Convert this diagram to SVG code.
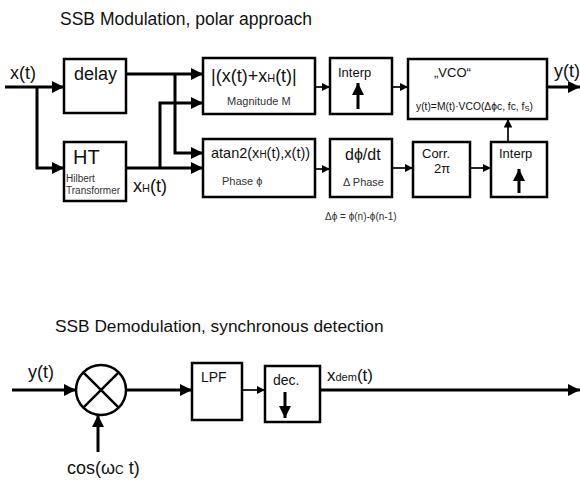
<svg xmlns="http://www.w3.org/2000/svg" width="580" height="489" viewBox="0 0 580 489">
<defs>
<marker id="ah" viewBox="0 0 10 10" refX="10" refY="5" markerWidth="4" markerHeight="4" orient="auto" markerUnits="strokeWidth"><path d="M0,0 L10,5 L0,10 z" fill="#000"/></marker>
<marker id="ahs" viewBox="0 0 10 10" refX="10" refY="5" markerWidth="5" markerHeight="5" orient="auto" markerUnits="strokeWidth"><path d="M0,0 L10,5 L0,10 z" fill="#000"/></marker>
<style>
.box{fill:#fff;stroke:#000;stroke-width:2.5}
.w{fill:none;stroke:#000;stroke-width:3}
.t{stroke-width:1.7}
.a{marker-end:url(#ah)}
.as{marker-end:url(#ahs)}
text{font-family:"Liberation Sans",Arial,sans-serif;fill:#111}
.sm{fill:#333}
</style>
</defs>
<rect width="580" height="489" fill="#fff"/>
<text x="60" y="25" font-size="17.5">SSB Modulation, polar approach</text>
<text x="55" y="332" font-size="17.3">SSB Demodulation, synchronous detection</text>

<g id="connectors">
<path class="w a" d="M5,87 H64"/>
<path class="w a" d="M37,87 V168 H64"/>
<path class="w a" d="M126,74 H203"/>
<path class="w a" d="M175,74 V153 H203"/>
<path class="w a" d="M126,168 H203"/>
<path class="w a" d="M160,168 V103 H203"/>
<path class="w t as" d="M315,87 H330"/>
<path class="w t as" d="M392,87 H408"/>
<path class="w t as" d="M315,169 H330"/>
<path class="w t as" d="M392,168 H413"/>
<path class="w t as" d="M470,168 H491"/>
<path class="w t as" d="M508,142 V119"/>
<path class="w a" d="M547,87 H580"/>
<path class="w a" d="M12,390 H76"/>
<path class="w a" d="M98,452 V415"/>
<path class="w a" d="M126,390 H192"/>
<path class="w t as" d="M242,390 H265"/>
<path class="w a" d="M320,390 H580"/>
</g>

<text x="10" y="79" font-size="18">x(t)</text>
<text x="554" y="77" font-size="18">y(t)</text>
<text x="133" y="192" font-size="18">x<tspan font-size="11">H</tspan>(t)</text>
<text class="sm" x="325" y="220" font-size="10">Δϕ = ϕ(n)-ϕ(n-1)</text>

<g id="delay">
<rect class="box" x="64" y="59" width="62" height="54"/>
<text x="74" y="80" font-size="18">delay</text>
</g>
<g id="ht">
<rect class="box" x="64" y="142" width="62" height="59"/>
<text x="73" y="164" font-size="20">HT</text>
<text class="sm" x="66" y="182" font-size="10">Hilbert</text>
<text class="sm" x="66" y="194" font-size="10">Transformer</text>
</g>
<g id="magnitude">
<rect class="box" x="203" y="58" width="112" height="56"/>
<text x="211" y="82" font-size="18">|(x(t)+x<tspan font-size="11">H</tspan>(t)|</text>
<text class="sm" x="227" y="105" font-size="11">Magnitude M</text>
</g>
<g id="interp1">
<rect class="box" x="330" y="58" width="62" height="56"/>
<text x="338" y="77" font-size="13">Interp</text>
<path class="w a" d="M358,109 V83"/>
</g>
<g id="vco">
<rect class="box" x="408" y="59" width="139" height="60"/>
<text x="434" y="77" font-size="13">„VCO“</text>
<text x="416" y="110" font-size="10.3">y(t)=M(t)·VCO(Δϕc, fc, f<tspan font-size="7.5" dy="1">S</tspan><tspan dy="-1">)</tspan></text>
</g>
<g id="phase">
<rect class="box" x="203" y="139" width="112" height="58"/>
<text x="211" y="158" font-size="14.5">atan2(x<tspan font-size="10">H</tspan>(t),x(t))</text>
<text class="sm" x="222" y="185" font-size="11">Phase ϕ</text>
</g>
<g id="dphi">
<rect class="box" x="330" y="139" width="62" height="58"/>
<text x="345" y="160" font-size="16">dϕ/dt</text>
<text class="sm" x="343" y="186" font-size="11">Δ Phase</text>
</g>
<g id="corr">
<rect class="box" x="413" y="142" width="57" height="55"/>
<text x="422" y="158" font-size="13">Corr.</text>
<text x="434" y="173" font-size="13">2π</text>
</g>
<g id="interp2">
<rect class="box" x="491" y="142" width="56" height="55"/>
<text x="499" y="158" font-size="13">Interp</text>
<path class="w a" d="M519,193 V169"/>
</g>

<text x="28" y="378" font-size="18">y(t)</text>
<text x="67" y="474" font-size="18">cos(ω<tspan font-size="12">C</tspan> t)</text>
<text x="327" y="381" font-size="17">x<tspan font-size="11">dem</tspan>(t)</text>

<g id="mixer">
<circle cx="101" cy="390" r="25" fill="#fff" stroke="#000" stroke-width="2.5"/>
<path d="M83.3,372.3 L118.7,407.7 M118.7,372.3 L83.3,407.7" stroke="#000" stroke-width="2.5"/>
</g>
<g id="lpf">
<rect class="box" x="192" y="363" width="50" height="57"/>
<text x="201" y="382" font-size="14">LPF</text>
</g>
<g id="dec">
<rect class="box" x="265" y="366" width="55" height="56"/>
<text x="273" y="385" font-size="14">dec.</text>
<path class="w a" d="M285,392 V418"/>
</g>
</svg>
